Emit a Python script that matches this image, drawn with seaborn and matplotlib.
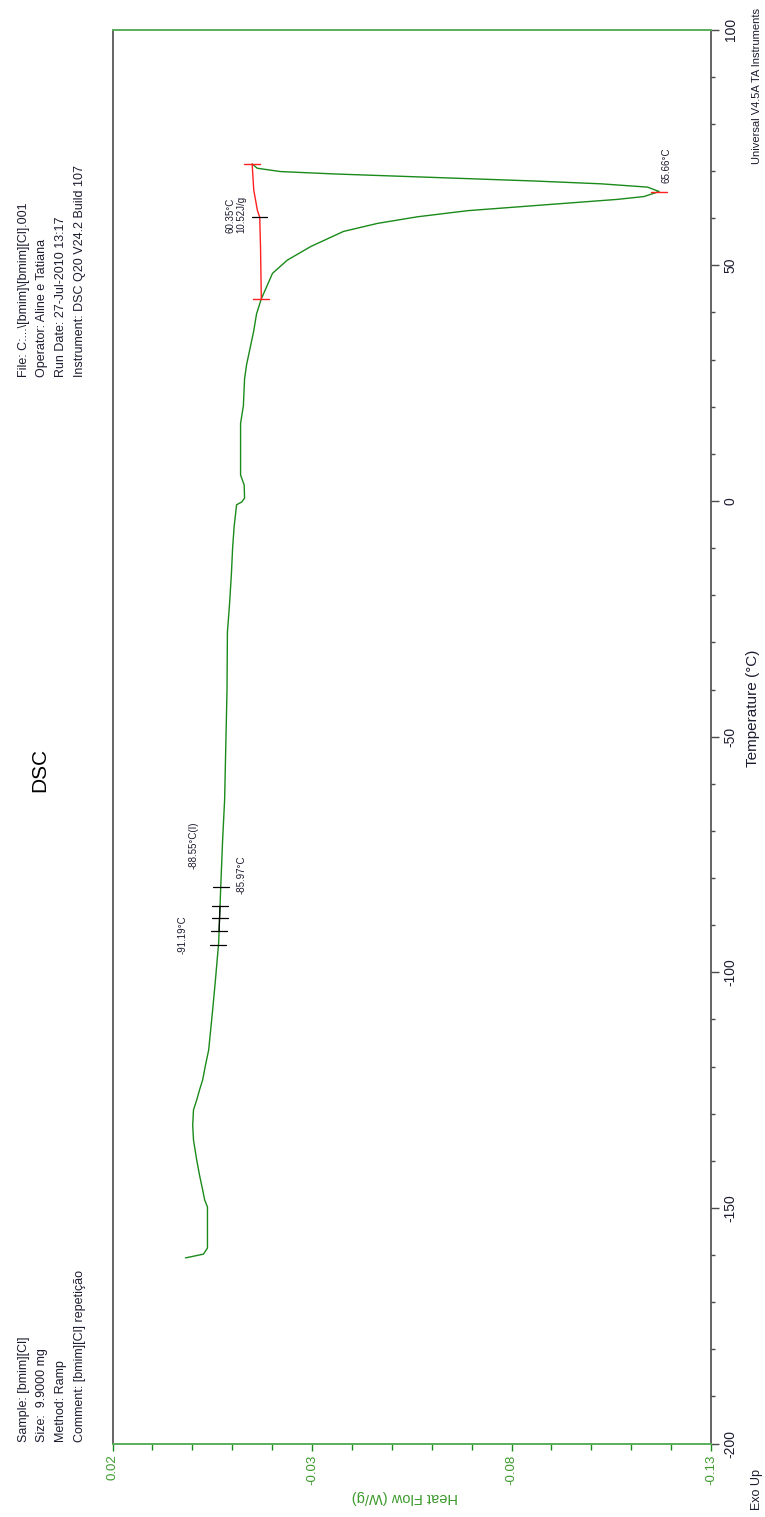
import numpy as np
import pandas as pd
import matplotlib
matplotlib.use("Agg")
import matplotlib.pyplot as plt
from matplotlib.ticker import FixedLocator, MultipleLocator
import seaborn as sns

# DSC heating run: temperature (°C) and heat flow (W/g)
temperature = [-160.6, -159.8, -158.5, -149.8, -148.3, -146.2, -143.0, -139.8,
               -135.6, -132.4, -129.2, -127.1, -125.0, -122.8, -119.7, -116.5,
               -108.0, -101.6, -93.8, -82.5, -71.9, -63.4, -40.1, -27.8,
               -22.3, -15.5, -10.0, -5.3, -0.8, -0.2, 0.6, 3.4,
               5.5, 16.5, 20.2, 25.9, 28.9, 32.5, 36.1, 39.7,
               42.9, 48.3, 51.1, 54.0, 57.2, 58.9, 60.3, 61.6,
               62.4, 63.2, 64.0, 64.6, 65.66, 66.6, 67.3, 67.9,
               68.4, 68.9, 69.4, 69.9, 70.6, 71.5]
heat_flow = [0.0017, -0.0028, -0.0038, -0.0038, -0.0031, -0.0026, -0.0018, -0.0011,
             -0.0003, -0.0001, -0.0003, -0.0011, -0.0018, -0.0026, -0.0033, -0.0041,
             -0.0051, -0.0058, -0.0066, -0.0071, -0.0076, -0.0081, -0.0087, -0.0088,
             -0.0093, -0.0098, -0.0101, -0.0105, -0.0111, -0.0124, -0.0131, -0.0130,
             -0.0121, -0.0121, -0.0128, -0.0131, -0.0136, -0.0145, -0.0154, -0.0161,
             -0.0173, -0.0201, -0.0238, -0.0297, -0.0379, -0.0464, -0.0564, -0.0690,
             -0.0815, -0.0940, -0.1066, -0.1132, -0.1170, -0.1141, -0.1024, -0.0856,
             -0.0690, -0.0522, -0.0354, -0.0221, -0.0163, -0.0150]

# Glass transition analysis: limits, onset, inflection, end
tg_marks = [-94.2, -91.19, -88.55, -85.97, -81.9]
tg_onset, tg_inflection, tg_end = -91.19, -88.55, -85.97

# Melting analysis: integration baseline and peak
baseline_temp = [42.9, 53.8, 60.2, 61.7, 66.0, 71.5]
baseline_hf = [-0.0173, -0.0171, -0.0169, -0.0163, -0.0154, -0.0150]
melt_onset = 60.35
melt_enthalpy = 10.52
peak_temp = 65.66
peak_hf = -0.1170

hf_ticks = [0.02, -0.03, -0.08, -0.13]
hf_tick_labels = ["0.02", "-0.03", "-0.08", "-0.13"]
temp_ticks = [-200, -150, -100, -50, 0, 50, 100]

GREEN = "#1a8a1a"
AXGREEN = "#5aae5a"
LABGREEN = "#3c9a2c"
GRAY = "#4a4a4a"
INK = "#1c1c30"
RED = "#ff2020"

sns.set_theme(style="white")
plt.rcParams["font.family"] = ["Liberation Sans", "DejaVu Sans"]
plt.rcParams["axes.unicode_minus"] = False

W, H = 765, 1517
fig = plt.figure(figsize=(W / 100, H / 100), dpi=100)
fig.patch.set_facecolor("white")

x0, x1 = 112.5, 711.0
y0, y1 = 29.7, 1443.6
ax = fig.add_axes([x0 / W, 1 - y1 / H, (x1 - x0) / W, (y1 - y0) / H])

df = pd.DataFrame({"heat_flow": heat_flow, "temperature": temperature})
sns.lineplot(data=df, x="heat_flow", y="temperature", sort=False,
             estimator=None, color=GREEN, lw=1.0, ax=ax)

ax.set_xlim(0.02, -0.13)
ax.set_ylim(-200, 100)

# heating segment up to the melting peak, used to locate analysis marks
heat_end = temperature.index(peak_temp)
seg_t = np.array(temperature[:heat_end + 1])
seg_h = np.array(heat_flow[:heat_end + 1])
half = 0.002

# glass transition ticks and tangent
for t in tg_marks:
    h = np.interp(t, seg_t, seg_h)
    ax.plot([h + half, h - half], [t, t], color="black", lw=0.9)
ax.plot([np.interp(tg_onset, seg_t, seg_h), np.interp(tg_end, seg_t, seg_h)],
        [tg_onset, tg_end], color="black", lw=0.9)

# melting integration baseline with end ticks
ax.plot(baseline_hf, baseline_temp, color=RED, lw=1.0)
for t, h in [(baseline_temp[0], baseline_hf[0]), (baseline_temp[-1], baseline_hf[-1])]:
    ax.plot([h + half, h - half], [t, t], color=RED, lw=1.0)
mh = np.interp(melt_onset, baseline_temp, baseline_hf)
ax.plot([mh + half, mh - half], [melt_onset, melt_onset], color="black", lw=0.9)
ax.plot([peak_hf + half, peak_hf - half], [peak_temp, peak_temp], color=RED, lw=1.0)

# analysis labels
lab = dict(rotation=90, fontsize=7, color=INK, ha="center", va="center")
ax.text(0.00233, -92.1, f"{tg_onset:.2f}°C", **lab)
ax.text(-0.00043, -73.0, f"{tg_inflection:.2f}°C(I)", **lab)
ax.text(-0.01246, -79.4, f"{tg_end:.2f}°C", **lab)
ax.text(-0.01095, 60.7, f"{melt_onset:.2f}°C\n{melt_enthalpy:.2f}J/g", **lab,
        linespacing=1.0)
ax.text(-0.11897, 71.3, f"{peak_temp:.2f}°C", **lab)

# axes styling
for side in ("left", "right"):
    ax.spines[side].set_color(GRAY)
    ax.spines[side].set_linewidth(1.2)
for side in ("top", "bottom"):
    ax.spines[side].set_color(AXGREEN)
    ax.spines[side].set_linewidth(1.4)

ax.xaxis.set_major_locator(FixedLocator(hf_ticks))
ax.set_xticklabels(hf_tick_labels)
ax.xaxis.set_minor_locator(MultipleLocator(0.01))
ax.tick_params(axis="x", which="both", bottom=True, top=False, direction="out",
               color=GREEN, labelcolor=LABGREEN, labelrotation=90, labelsize=9.5,
               pad=3)
ax.tick_params(axis="x", which="major", length=5, width=1.0)
ax.tick_params(axis="x", which="minor", length=4, width=1.0)

ax.yaxis.tick_right()
ax.yaxis.set_major_locator(FixedLocator(temp_ticks))
ax.yaxis.set_minor_locator(MultipleLocator(10))
ax.tick_params(axis="y", which="both", left=False, right=True, direction="out",
               color=GRAY, labelcolor=INK, labelsize=10, pad=3)
ax.tick_params(axis="y", which="major", length=6, width=1.0)
ax.tick_params(axis="y", which="minor", length=3, width=1.0)
for lbl in ax.get_yticklabels():
    lbl.set_rotation(90)
    lbl.set_va("center")
    lbl.set_ha("left")

ax.set_xlabel("Heat Flow (W/g)", rotation=180, color=LABGREEN, fontsize=10.5)
ax.xaxis.set_label_coords((405 - x0) / (x1 - x0), -(1497 - y1) / (y1 - y0))
ax.xaxis.label.set_va("center")
ax.yaxis.set_label_position("right")
ax.set_ylabel("Temperature (°C)", rotation=90, color=INK, fontsize=11)
ax.yaxis.set_label_coords((753 - x0) / (x1 - x0), (y1 - 708) / (y1 - y0))
ax.yaxis.label.set_va("center")
ax.yaxis.label.set_ha("center")


def ftext(px, py, s, **kw):
    fig.text(px / W, 1 - py / H, s, rotation=90, **kw)


ftext(40, 770, "DSC", fontsize=15, color="black", ha="center", va="center")

# header blocks: sample details and run details
left_info = ["Sample: [bmim][Cl]", "Size:  9.9000 mg", "Method: Ramp",
             "Comment: [bmim][Cl] repetição"]
for i, s in enumerate(left_info):
    ftext(24 + 18.5 * i, 1442, s, fontsize=9, color=INK, ha="center", va="bottom")

right_info = ["File: C:...\\[bmim]\\[bmim][Cl].001", "Operator: Aline e Tatiana",
              "Run Date: 27-Jul-2010 13:17", "Instrument: DSC Q20 V24.2 Build 107"]
for i, s in enumerate(right_info):
    ftext(24 + 18.5 * i, 377, s, fontsize=9, color=INK, ha="center", va="bottom")

ftext(757, 8, "Universal V4.5A TA Instruments", fontsize=8, color=INK,
      ha="center", va="top")
ftext(757, 1490, "Exo Up", fontsize=9, color=INK, ha="center", va="center")

fig.savefig("out.png", dpi=100, facecolor="white")
